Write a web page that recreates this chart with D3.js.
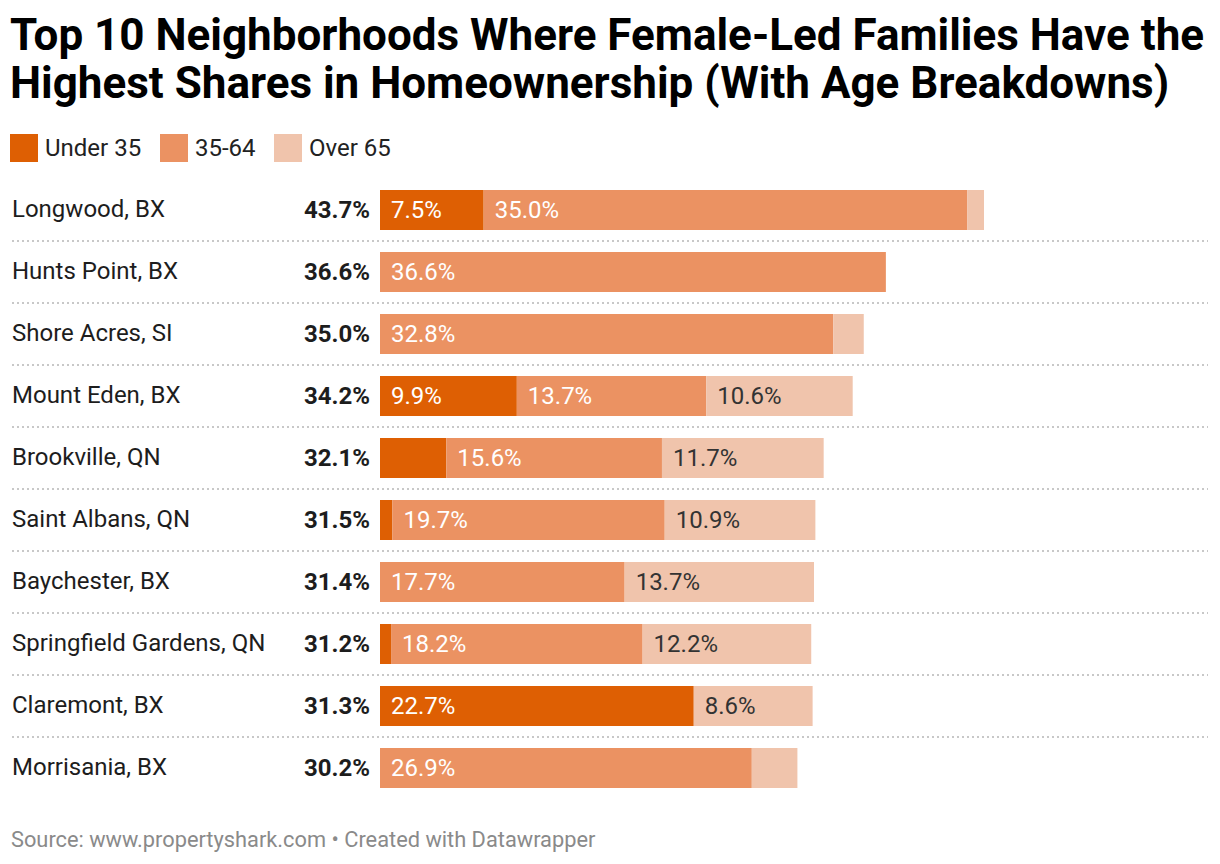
<!DOCTYPE html>
<html>
<head>
<meta charset="utf-8">
<script src="https://cdn.jsdelivr.net/npm/d3@7"></script>
<style>
  html, body { margin: 0; padding: 0; background: #fff; }
  svg { display: block; font-family: Roboto, "Noto Sans", sans-serif; }
</style>
</head>
<body>
<svg id="chart" width="1220" height="864"></svg>
<script>
const titleLines = [
  "Top 10 Neighborhoods Where Female-Led Families Have the",
  "Highest Shares in Homeownership (With Age Breakdowns)"
];
const sourceText = "Source: www.propertyshark.com \u2022 Created with Datawrapper";

const neighborhoods = ["Longwood, BX", "Hunts Point, BX", "Shore Acres, SI", "Mount Eden, BX",
  "Brookville, QN", "Saint Albans, QN", "Baychester, BX", "Springfield Gardens, QN",
  "Claremont, BX", "Morrisania, BX"];
const totals   = [43.7, 36.6, 35.0, 34.2, 32.1, 31.5, 31.4, 31.2, 31.3, 30.2];
const under35  = [7.5, 0, 0, 9.9, 4.8, 0.9, 0, 0.8, 22.7, 0];
const mid3564  = [35.0, 36.6, 32.8, 13.7, 15.6, 19.7, 17.7, 18.2, 0, 26.9];
const over65   = [1.2, 0, 2.2, 10.6, 11.7, 10.9, 13.7, 12.2, 8.6, 3.3];

const seriesKeys = ["Under 35", "35-64", "Over 65"];
const seriesColors = ["#de5f03", "#eb9262", "#f0c4ac"];
const labelColors = ["#ffffff", "#ffffff", "#333333"];

const rows = neighborhoods.map((n, i) => ({
  name: n, total: totals[i],
  "Under 35": under35[i], "35-64": mid3564[i], "Over 65": over65[i]
}));

const svg = d3.select("#chart");

// Title
svg.append("g").selectAll("text").data(titleLines).join("text")
  .attr("x", 10).attr("y", (d, i) => 50 + i * 48)
  .attr("font-size", 44).attr("font-weight", 700).attr("fill", "#000")
  .text(d => d);

// Legend
const legend = svg.append("g").attr("transform", "translate(10,134)");
const legendX = [0, 150, 264];
seriesKeys.forEach((k, i) => {
  const g = legend.append("g").attr("transform", `translate(${legendX[i]},0)`);
  g.append("rect").attr("width", 28).attr("height", 28).attr("fill", seriesColors[i]);
  g.append("text").attr("x", 35).attr("y", 22).attr("font-size", 24).attr("fill", "#222").text(k);
});

// Scales
const x = d3.scaleLinear().domain([0, d3.max(totals)]).range([380, 984]);
const y = d3.scaleBand().domain(neighborhoods).range([179, 799]).paddingInner(22 / 62).paddingOuter(11 / 62);

const stack = d3.stack().keys(seriesKeys);
const stacked = stack(rows);

// Dividers
svg.append("g").selectAll("line").data(neighborhoods.slice(0, -1)).join("line")
  .attr("x1", 12).attr("x2", 1208)
  .attr("y1", d => y(d) + y.bandwidth() + 11).attr("y2", d => y(d) + y.bandwidth() + 11)
  .attr("stroke", "#c8c8c8").attr("stroke-width", 2).attr("stroke-dasharray", "2,3");

// Row labels
svg.append("g").selectAll("text").data(rows).join("text")
  .attr("x", 12).attr("y", d => y(d.name) + y.bandwidth() / 2 + 7)
  .attr("font-size", 24).attr("fill", "#1d1d1d").text(d => d.name);

// Totals
svg.append("g").selectAll("text").data(rows).join("text")
  .attr("x", 370).attr("y", d => y(d.name) + y.bandwidth() / 2 + 8)
  .attr("text-anchor", "end").attr("font-size", 24).attr("font-weight", 700).attr("fill", "#1d1d1d")
  .text(d => d.total.toFixed(1) + "%");

// Bars
const layers = svg.append("g").selectAll("g").data(stacked).join("g")
  .attr("fill", (d, i) => seriesColors[i]);
layers.selectAll("rect").data(d => d.map(v => ({ v, name: v.data.name }))).join("rect")
  .attr("x", d => x(d.v[0])).attr("y", d => y(d.name))
  .attr("width", d => Math.max(0, x(d.v[1]) - x(d.v[0])))
  .attr("height", y.bandwidth());

// Segment labels
stacked.forEach((layer, li) => {
  svg.append("g").selectAll("text")
    .data(layer.filter(v => (v[1] - v[0]) >= 5))
    .join("text")
    .attr("x", v => x(v[0]) + 11)
    .attr("y", v => y(v.data.name) + y.bandwidth() / 2 + 8)
    .attr("font-size", 24).attr("fill", labelColors[li])
    .text(v => (v[1] - v[0]).toFixed(1) + "%");
});

// Source
svg.append("text").attr("x", 11).attr("y", 847).attr("font-size", 21.8).attr("fill", "#8a8a8a").text(sourceText);
</script>
</body>
</html>
